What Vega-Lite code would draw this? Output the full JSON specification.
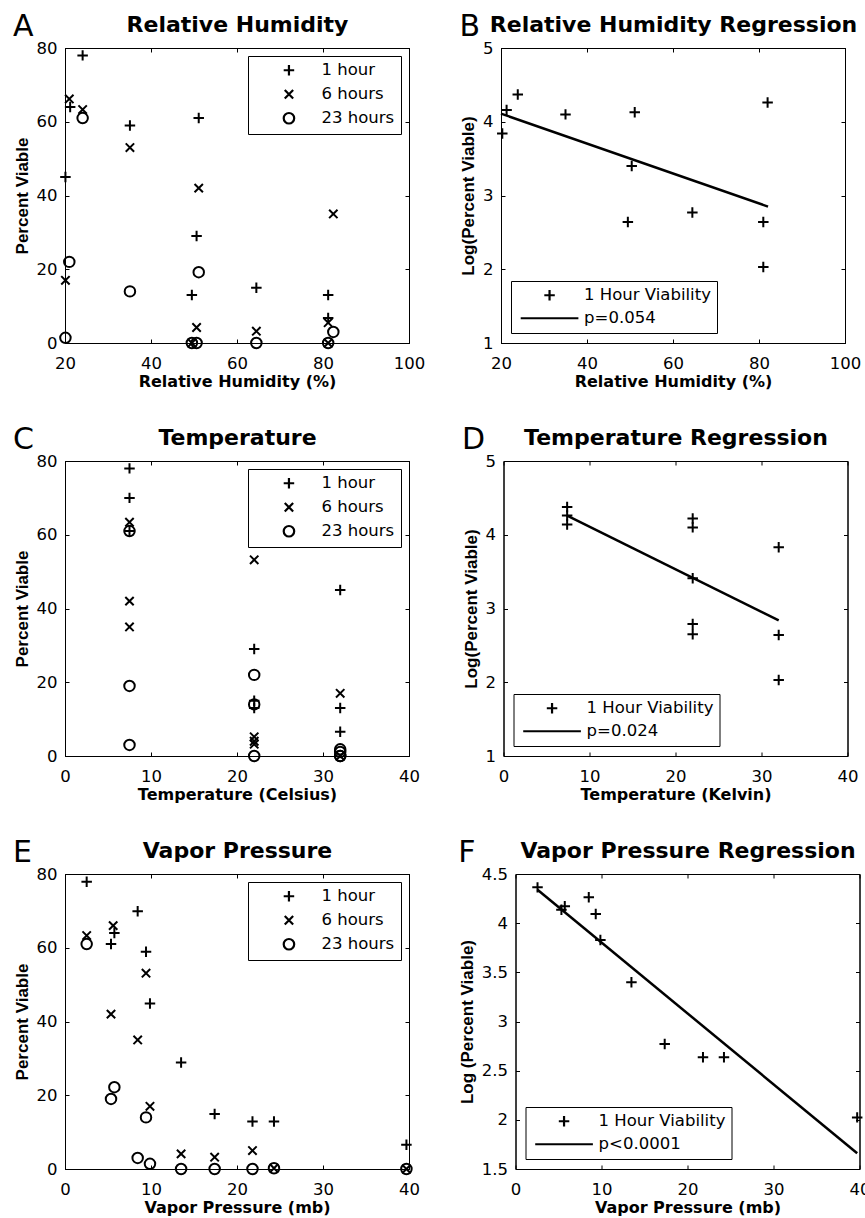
{
  "$schema": "https://vega.github.io/schema/vega-lite/v6.json",
  "background": "white",
  "padding": {"left": 12, "top": 11, "right": 0, "bottom": 0},
  "datasets": {
    "A": [
      {"x": 20.1, "y": 45, "s": "1 hour"}, {"x": 21.2, "y": 64, "s": "1 hour"}, {"x": 24.1, "y": 78, "s": "1 hour"},
      {"x": 35.1, "y": 59, "s": "1 hour"}, {"x": 49.5, "y": 13, "s": "1 hour"}, {"x": 50.6, "y": 29, "s": "1 hour"},
      {"x": 51.1, "y": 61, "s": "1 hour"}, {"x": 64.5, "y": 15, "s": "1 hour"}, {"x": 81.2, "y": 13, "s": "1 hour"},
      {"x": 81.2, "y": 6.8, "s": "1 hour"}, {"x": 82.2, "y": 70, "s": "1 hour"},
      {"x": 21.0, "y": 66.2, "s": "6 hours"}, {"x": 24.1, "y": 63.3, "s": "6 hours"}, {"x": 35.1, "y": 53, "s": "6 hours"},
      {"x": 51.1, "y": 42, "s": "6 hours"}, {"x": 20.1, "y": 17, "s": "6 hours"}, {"x": 50.6, "y": 4.2, "s": "6 hours"},
      {"x": 64.5, "y": 3.2, "s": "6 hours"}, {"x": 81.2, "y": 5.5, "s": "6 hours"}, {"x": 82.4, "y": 35, "s": "6 hours"},
      {"x": 49.5, "y": 0, "s": "6 hours"}, {"x": 81.2, "y": 0, "s": "6 hours"},
      {"x": 24.1, "y": 61, "s": "23 hours"}, {"x": 21.0, "y": 22, "s": "23 hours"}, {"x": 20.1, "y": 1.4, "s": "23 hours"},
      {"x": 35.1, "y": 14, "s": "23 hours"}, {"x": 51.1, "y": 19.2, "s": "23 hours"}, {"x": 49.5, "y": 0, "s": "23 hours"},
      {"x": 50.6, "y": 0, "s": "23 hours"}, {"x": 64.5, "y": 0, "s": "23 hours"}, {"x": 81.2, "y": 0, "s": "23 hours"},
      {"x": 82.4, "y": 3, "s": "23 hours"}
    ],
    "B": [
      {"x": 20.3, "y": 3.84, "s": "1 Hour Viability"}, {"x": 21.3, "y": 4.16, "s": "1 Hour Viability"},
      {"x": 23.9, "y": 4.37, "s": "1 Hour Viability"}, {"x": 35.0, "y": 4.10, "s": "1 Hour Viability"},
      {"x": 51.1, "y": 4.13, "s": "1 Hour Viability"}, {"x": 50.4, "y": 3.40, "s": "1 Hour Viability"},
      {"x": 49.5, "y": 2.64, "s": "1 Hour Viability"}, {"x": 64.5, "y": 2.77, "s": "1 Hour Viability"},
      {"x": 81.0, "y": 2.64, "s": "1 Hour Viability"}, {"x": 81.0, "y": 2.03, "s": "1 Hour Viability"},
      {"x": 82.0, "y": 4.26, "s": "1 Hour Viability"}
    ],
    "Bline": [{"x": 20, "y": 4.11}, {"x": 82.1, "y": 2.85}],
    "C": [
      {"x": 7.5, "y": 78, "s": "1 hour"}, {"x": 7.5, "y": 70, "s": "1 hour"}, {"x": 7.5, "y": 61, "s": "1 hour"},
      {"x": 22, "y": 64, "s": "1 hour"}, {"x": 22, "y": 59, "s": "1 hour"}, {"x": 22, "y": 29, "s": "1 hour"},
      {"x": 22, "y": 15, "s": "1 hour"}, {"x": 22, "y": 13, "s": "1 hour"}, {"x": 32, "y": 45, "s": "1 hour"},
      {"x": 32, "y": 13, "s": "1 hour"}, {"x": 32, "y": 6.6, "s": "1 hour"},
      {"x": 7.5, "y": 63.4, "s": "6 hours"}, {"x": 7.5, "y": 42, "s": "6 hours"}, {"x": 7.5, "y": 35, "s": "6 hours"},
      {"x": 22, "y": 66, "s": "6 hours"}, {"x": 22, "y": 53.2, "s": "6 hours"}, {"x": 22, "y": 5.2, "s": "6 hours"},
      {"x": 22, "y": 4, "s": "6 hours"}, {"x": 22, "y": 3.2, "s": "6 hours"}, {"x": 32, "y": 17, "s": "6 hours"},
      {"x": 32, "y": 0, "s": "6 hours"},
      {"x": 7.5, "y": 61, "s": "23 hours"}, {"x": 7.5, "y": 19, "s": "23 hours"}, {"x": 7.5, "y": 3, "s": "23 hours"},
      {"x": 22, "y": 22, "s": "23 hours"}, {"x": 22, "y": 14, "s": "23 hours"}, {"x": 22, "y": 0, "s": "23 hours"},
      {"x": 32, "y": 1.8, "s": "23 hours"}, {"x": 32, "y": 1.1, "s": "23 hours"}, {"x": 32, "y": 0, "s": "23 hours"},
      {"x": 32, "y": 0, "s": "23 hours"}
    ],
    "D": [
      {"x": 7.4, "y": 4.375, "s": "1 Hour Viability"}, {"x": 7.4, "y": 4.26, "s": "1 Hour Viability"},
      {"x": 7.4, "y": 4.14, "s": "1 Hour Viability"}, {"x": 22, "y": 4.22, "s": "1 Hour Viability"},
      {"x": 22, "y": 4.10, "s": "1 Hour Viability"}, {"x": 22, "y": 3.41, "s": "1 Hour Viability"},
      {"x": 22, "y": 2.79, "s": "1 Hour Viability"}, {"x": 22, "y": 2.65, "s": "1 Hour Viability"},
      {"x": 32, "y": 3.83, "s": "1 Hour Viability"}, {"x": 32, "y": 2.64, "s": "1 Hour Viability"},
      {"x": 32, "y": 2.03, "s": "1 Hour Viability"}
    ],
    "Dline": [{"x": 7.4, "y": 4.26}, {"x": 32, "y": 2.84}],
    "E": [
      {"x": 2.52, "y": 77.9, "s": "1 hour"}, {"x": 5.35, "y": 61, "s": "1 hour"}, {"x": 5.74, "y": 64, "s": "1 hour"},
      {"x": 8.45, "y": 69.9, "s": "1 hour"}, {"x": 9.42, "y": 58.9, "s": "1 hour"}, {"x": 9.88, "y": 44.9, "s": "1 hour"},
      {"x": 13.5, "y": 28.9, "s": "1 hour"}, {"x": 17.4, "y": 14.9, "s": "1 hour"}, {"x": 21.8, "y": 12.9, "s": "1 hour"},
      {"x": 24.3, "y": 12.9, "s": "1 hour"}, {"x": 39.7, "y": 6.6, "s": "1 hour"},
      {"x": 2.52, "y": 63.3, "s": "6 hours"}, {"x": 5.6, "y": 66, "s": "6 hours"}, {"x": 5.35, "y": 42, "s": "6 hours"},
      {"x": 8.45, "y": 35, "s": "6 hours"}, {"x": 9.42, "y": 53.1, "s": "6 hours"}, {"x": 9.88, "y": 17, "s": "6 hours"},
      {"x": 13.5, "y": 4.1, "s": "6 hours"}, {"x": 17.4, "y": 3.2, "s": "6 hours"}, {"x": 21.8, "y": 5, "s": "6 hours"},
      {"x": 24.3, "y": 0.2, "s": "6 hours"}, {"x": 39.7, "y": 0, "s": "6 hours"},
      {"x": 2.52, "y": 61, "s": "23 hours"}, {"x": 5.35, "y": 19, "s": "23 hours"}, {"x": 5.74, "y": 22.2, "s": "23 hours"},
      {"x": 9.42, "y": 14, "s": "23 hours"}, {"x": 8.45, "y": 3, "s": "23 hours"}, {"x": 9.88, "y": 1.4, "s": "23 hours"},
      {"x": 13.5, "y": 0, "s": "23 hours"}, {"x": 17.4, "y": 0, "s": "23 hours"}, {"x": 21.8, "y": 0, "s": "23 hours"},
      {"x": 24.3, "y": 0.2, "s": "23 hours"}, {"x": 39.7, "y": 0, "s": "23 hours"}
    ],
    "F": [
      {"x": 2.56, "y": 4.364, "s": "1 Hour Viability"}, {"x": 5.34, "y": 4.137, "s": "1 Hour Viability"},
      {"x": 5.73, "y": 4.171, "s": "1 Hour Viability"}, {"x": 8.52, "y": 4.263, "s": "1 Hour Viability"},
      {"x": 9.33, "y": 4.093, "s": "1 Hour Viability"}, {"x": 9.87, "y": 3.829, "s": "1 Hour Viability"},
      {"x": 13.48, "y": 3.398, "s": "1 Hour Viability"}, {"x": 17.35, "y": 2.771, "s": "1 Hour Viability"},
      {"x": 21.8, "y": 2.636, "s": "1 Hour Viability"}, {"x": 24.24, "y": 2.636, "s": "1 Hour Viability"},
      {"x": 39.73, "y": 2.025, "s": "1 Hour Viability"}
    ],
    "Fline": [{"x": 2.56, "y": 4.34}, {"x": 39.73, "y": 1.66}]
  },
  "spacing": 34,
  "resolve": {"scale": {"shape": "independent"}, "legend": {"shape": "independent"}},
  "vconcat": [
    {
      "spacing": 33,
      "resolve": {"scale": {"shape": "independent"}, "legend": {"shape": "independent"}},
      "hconcat": [
        {
          "width": 344, "height": 295,
          "title": {"text": "A", "anchor": "start", "frame": "bounds", "fontSize": 30, "fontWeight": "normal", "offset": -21, "dy": 32, "baseline": "alphabetic"},
          "layer": [
            {
              "data": {"name": "A"},
              "transform": [{"filter": "datum.s != '23 hours'"}],
              "mark": {"type": "point", "filled": false, "strokeWidth": 2, "color": "black", "opacity": 1, "size": 110},
              "encoding": {
                "x": {"field": "x", "type": "quantitative", "scale": {"domain": [20, 100], "nice": false, "zero": false}, "axis": {"orient": "bottom", "title": "Relative Humidity (%)", "values": [20, 40, 60, 80, 100]}},
                "y": {"field": "y", "type": "quantitative", "scale": {"domain": [0, 80], "nice": false, "zero": false}, "axis": {"orient": "left", "title": "Percent Viable", "values": [0, 20, 40, 60, 80]}},
                "shape": {"field": "s", "type": "nominal", "scale": {"domain": ["1 hour", "6 hours", "23 hours"], "range": ["M-1,0H1M0,-1V1", "M-0.8,-0.8L0.8,0.8M-0.8,0.8L0.8,-0.8", "circle"]}, "legend": {"title": null, "orient": "top-right", "offset": 8, "symbolOffset": 26.7, "labelOffset": 24.3}}
              }
            },
            {
              "data": {"name": "A"},
              "transform": [{"filter": "datum.s == '23 hours'"}],
              "mark": {"type": "point", "filled": false, "strokeWidth": 2, "color": "black", "opacity": 1, "size": 110},
              "encoding": {
                "x": {"field": "x", "type": "quantitative", "scale": {"domain": [20, 100], "nice": false, "zero": false}, "axis": {"orient": "top", "title": "Relative Humidity", "values": [20, 40, 60, 80, 100]}},
                "y": {"field": "y", "type": "quantitative", "scale": {"domain": [0, 80], "nice": false, "zero": false}, "axis": {"orient": "right", "title": null, "values": [0, 20, 40, 60, 80]}},
                "shape": {"field": "s", "type": "nominal", "scale": {"domain": ["1 hour", "6 hours", "23 hours"], "range": ["M-1,0H1M0,-1V1", "M-0.8,-0.8L0.8,0.8M-0.8,0.8L0.8,-0.8", "circle"]}, "legend": {"title": null, "orient": "top-right", "offset": 8, "symbolOffset": 26.7, "labelOffset": 24.3}}
              }
            }
          ],
          "resolve": {"axis": {"x": "independent", "y": "independent"}}
        },
        {
          "width": 344, "height": 295,
          "title": {"text": "B", "anchor": "start", "frame": "bounds", "fontSize": 30, "fontWeight": "normal", "offset": -21, "dy": 32, "baseline": "alphabetic"},
          "layer": [
            {
              "data": {"name": "B"},
              "mark": {"type": "point", "filled": false, "strokeWidth": 2, "color": "black", "opacity": 1, "size": 110},
              "encoding": {
                "x": {"field": "x", "type": "quantitative", "scale": {"domain": [20, 100], "nice": false, "zero": false}, "axis": {"orient": "bottom", "title": "Relative Humidity (%)", "values": [20, 40, 60, 80, 100]}},
                "y": {"field": "y", "type": "quantitative", "scale": {"domain": [1, 5], "nice": false, "zero": false}, "axis": {"orient": "left", "title": "Log(Percent Viable)", "values": [1, 2, 3, 4, 5]}},
                "shape": {"field": "s", "type": "nominal", "scale": {"domain": ["1 Hour Viability", "p=0.054"], "range": ["M-1,0H1M0,-1V1", "M-5.5,0H5.5"]}, "legend": {"title": null, "orient": "bottom-left", "offset": 10, "symbolOffset": 24.3, "labelOffset": 26.3}}
              }
            },
            {
              "data": {"name": "Bline"},
              "mark": {"type": "line", "color": "black", "strokeWidth": 2.5},
              "encoding": {
                "x": {"field": "x", "type": "quantitative", "scale": {"domain": [20, 100], "nice": false, "zero": false}, "axis": {"orient": "top", "title": "Relative Humidity Regression", "values": [20, 40, 60, 80, 100]}},
                "y": {"field": "y", "type": "quantitative", "scale": {"domain": [1, 5], "nice": false, "zero": false}, "axis": {"orient": "right", "title": null, "values": [1, 2, 3, 4, 5]}}
              }
            }
          ],
          "resolve": {"axis": {"x": "independent", "y": "independent"}}
        }
      ]
    },
    {
      "spacing": 41.5,
      "resolve": {"scale": {"shape": "independent"}, "legend": {"shape": "independent"}},
      "hconcat": [
        {
          "width": 344, "height": 295,
          "title": {"text": "C", "anchor": "start", "frame": "bounds", "fontSize": 30, "fontWeight": "normal", "offset": -21, "dy": 32, "baseline": "alphabetic"},
          "layer": [
            {
              "data": {"name": "C"},
              "transform": [{"filter": "datum.s != '23 hours'"}],
              "mark": {"type": "point", "filled": false, "strokeWidth": 2, "color": "black", "opacity": 1, "size": 110},
              "encoding": {
                "x": {"field": "x", "type": "quantitative", "scale": {"domain": [0, 40], "nice": false, "zero": false}, "axis": {"orient": "bottom", "title": "Temperature (Celsius)", "values": [0, 10, 20, 30, 40]}},
                "y": {"field": "y", "type": "quantitative", "scale": {"domain": [0, 80], "nice": false, "zero": false}, "axis": {"orient": "left", "title": "Percent Viable", "values": [0, 20, 40, 60, 80]}},
                "shape": {"field": "s", "type": "nominal", "scale": {"domain": ["1 hour", "6 hours", "23 hours"], "range": ["M-1,0H1M0,-1V1", "M-0.8,-0.8L0.8,0.8M-0.8,0.8L0.8,-0.8", "circle"]}, "legend": {"title": null, "orient": "top-right", "offset": 8, "symbolOffset": 26.7, "labelOffset": 24.3}}
              }
            },
            {
              "data": {"name": "C"},
              "transform": [{"filter": "datum.s == '23 hours'"}],
              "mark": {"type": "point", "filled": false, "strokeWidth": 2, "color": "black", "opacity": 1, "size": 110},
              "encoding": {
                "x": {"field": "x", "type": "quantitative", "scale": {"domain": [0, 40], "nice": false, "zero": false}, "axis": {"orient": "top", "title": "Temperature", "values": [0, 10, 20, 30, 40]}},
                "y": {"field": "y", "type": "quantitative", "scale": {"domain": [0, 80], "nice": false, "zero": false}, "axis": {"orient": "right", "title": null, "values": [0, 20, 40, 60, 80]}},
                "shape": {"field": "s", "type": "nominal", "scale": {"domain": ["1 hour", "6 hours", "23 hours"], "range": ["M-1,0H1M0,-1V1", "M-0.8,-0.8L0.8,0.8M-0.8,0.8L0.8,-0.8", "circle"]}, "legend": {"title": null, "orient": "top-right", "offset": 8, "symbolOffset": 26.7, "labelOffset": 24.3}}
              }
            }
          ],
          "resolve": {"axis": {"x": "independent", "y": "independent"}}
        },
        {
          "width": 344, "height": 295,
          "title": {"text": "D", "anchor": "start", "frame": "bounds", "fontSize": 30, "fontWeight": "normal", "offset": -21, "dy": 32, "baseline": "alphabetic"},
          "layer": [
            {
              "data": {"name": "D"},
              "mark": {"type": "point", "filled": false, "strokeWidth": 2, "color": "black", "opacity": 1, "size": 110},
              "encoding": {
                "x": {"field": "x", "type": "quantitative", "scale": {"domain": [0, 40], "nice": false, "zero": false}, "axis": {"orient": "bottom", "title": "Temperature (Kelvin)", "values": [0, 10, 20, 30, 40]}},
                "y": {"field": "y", "type": "quantitative", "scale": {"domain": [1, 5], "nice": false, "zero": false}, "axis": {"orient": "left", "title": "Log(Percent Viable)", "values": [1, 2, 3, 4, 5]}},
                "shape": {"field": "s", "type": "nominal", "scale": {"domain": ["1 Hour Viability", "p=0.024"], "range": ["M-1,0H1M0,-1V1", "M-5.5,0H5.5"]}, "legend": {"title": null, "orient": "bottom-left", "offset": 10, "symbolOffset": 24.3, "labelOffset": 26.3}}
              }
            },
            {
              "data": {"name": "Dline"},
              "mark": {"type": "line", "color": "black", "strokeWidth": 2.5},
              "encoding": {
                "x": {"field": "x", "type": "quantitative", "scale": {"domain": [0, 40], "nice": false, "zero": false}, "axis": {"orient": "top", "title": "Temperature Regression", "values": [0, 10, 20, 30, 40]}},
                "y": {"field": "y", "type": "quantitative", "scale": {"domain": [1, 5], "nice": false, "zero": false}, "axis": {"orient": "right", "title": null, "values": [1, 2, 3, 4, 5]}}
              }
            }
          ],
          "resolve": {"axis": {"x": "independent", "y": "independent"}}
        }
      ]
    },
    {
      "spacing": 37.5,
      "resolve": {"scale": {"shape": "independent"}, "legend": {"shape": "independent"}},
      "hconcat": [
        {
          "width": 344, "height": 295,
          "title": {"text": "E", "anchor": "start", "frame": "bounds", "fontSize": 30, "fontWeight": "normal", "offset": -21, "dy": 32, "baseline": "alphabetic"},
          "layer": [
            {
              "data": {"name": "E"},
              "transform": [{"filter": "datum.s != '23 hours'"}],
              "mark": {"type": "point", "filled": false, "strokeWidth": 2, "color": "black", "opacity": 1, "size": 110},
              "encoding": {
                "x": {"field": "x", "type": "quantitative", "scale": {"domain": [0, 40], "nice": false, "zero": false}, "axis": {"orient": "bottom", "title": "Vapor Pressure (mb)", "values": [0, 10, 20, 30, 40]}},
                "y": {"field": "y", "type": "quantitative", "scale": {"domain": [0, 80], "nice": false, "zero": false}, "axis": {"orient": "left", "title": "Percent Viable", "values": [0, 20, 40, 60, 80]}},
                "shape": {"field": "s", "type": "nominal", "scale": {"domain": ["1 hour", "6 hours", "23 hours"], "range": ["M-1,0H1M0,-1V1", "M-0.8,-0.8L0.8,0.8M-0.8,0.8L0.8,-0.8", "circle"]}, "legend": {"title": null, "orient": "top-right", "offset": 8, "symbolOffset": 26.7, "labelOffset": 24.3}}
              }
            },
            {
              "data": {"name": "E"},
              "transform": [{"filter": "datum.s == '23 hours'"}],
              "mark": {"type": "point", "filled": false, "strokeWidth": 2, "color": "black", "opacity": 1, "size": 110},
              "encoding": {
                "x": {"field": "x", "type": "quantitative", "scale": {"domain": [0, 40], "nice": false, "zero": false}, "axis": {"orient": "top", "title": "Vapor Pressure", "values": [0, 10, 20, 30, 40]}},
                "y": {"field": "y", "type": "quantitative", "scale": {"domain": [0, 80], "nice": false, "zero": false}, "axis": {"orient": "right", "title": null, "values": [0, 20, 40, 60, 80]}},
                "shape": {"field": "s", "type": "nominal", "scale": {"domain": ["1 hour", "6 hours", "23 hours"], "range": ["M-1,0H1M0,-1V1", "M-0.8,-0.8L0.8,0.8M-0.8,0.8L0.8,-0.8", "circle"]}, "legend": {"title": null, "orient": "top-right", "offset": 8, "symbolOffset": 26.7, "labelOffset": 24.3}}
              }
            }
          ],
          "resolve": {"axis": {"x": "independent", "y": "independent"}}
        },
        {
          "width": 344, "height": 295,
          "title": {"text": "F", "anchor": "start", "frame": "bounds", "fontSize": 30, "fontWeight": "normal", "offset": -21, "dy": 32, "baseline": "alphabetic"},
          "layer": [
            {
              "data": {"name": "F"},
              "mark": {"type": "point", "filled": false, "strokeWidth": 2, "color": "black", "opacity": 1, "size": 110},
              "encoding": {
                "x": {"field": "x", "type": "quantitative", "scale": {"domain": [0, 40], "nice": false, "zero": false}, "axis": {"orient": "bottom", "title": "Vapor Pressure (mb)", "values": [0, 10, 20, 30, 40]}},
                "y": {"field": "y", "type": "quantitative", "scale": {"domain": [1.5, 4.5], "nice": false, "zero": false}, "axis": {"orient": "left", "title": "Log (Percent Viable)", "values": [1.5, 2, 2.5, 3, 3.5, 4, 4.5], "format": "~g"}},
                "shape": {"field": "s", "type": "nominal", "scale": {"domain": ["1 Hour Viability", "p<0.0001"], "range": ["M-1,0H1M0,-1V1", "M-5.5,0H5.5"]}, "legend": {"title": null, "orient": "bottom-left", "offset": 10, "symbolOffset": 24.3, "labelOffset": 26.3}}
              }
            },
            {
              "data": {"name": "Fline"},
              "mark": {"type": "line", "color": "black", "strokeWidth": 2.5},
              "encoding": {
                "x": {"field": "x", "type": "quantitative", "scale": {"domain": [0, 40], "nice": false, "zero": false}, "axis": {"orient": "top", "title": "Vapor Pressure Regression", "values": [0, 10, 20, 30, 40]}},
                "y": {"field": "y", "type": "quantitative", "scale": {"domain": [1.5, 4.5], "nice": false, "zero": false}, "axis": {"orient": "right", "title": null, "values": [1.5, 2, 2.5, 3, 3.5, 4, 4.5]}}
              }
            }
          ],
          "resolve": {"axis": {"x": "independent", "y": "independent"}}
        }
      ]
    }
  ],
  "config": {
    "font": "DejaVu Sans",
    "view": {"stroke": "black", "strokeWidth": 1},
    "axis": {"domainColor": "black", "domainWidth": 1, "tickColor": "black", "tickWidth": 1, "tickSize": -4, "labelColor": "black", "titleColor": "black", "grid": false, "labelFontSize": 16.5, "labelFont": "DejaVu Sans", "labelFlush": false, "labelOverlap": false, "labelBound": false, "titleFontWeight": "bold"},
    "axisBottom": {"labelPadding": 16, "titleFontSize": 16, "titlePadding": 2, "titleFont": "DejaVu Sans"},
    "axisLeft": {"labelPadding": 12, "titleFont": "Liberation Sans", "titleFontSize": 17, "titlePadding": 5},
    "axisTop": {"labels": false, "titleFontSize": 22, "titlePadding": 11.5, "titleFont": "DejaVu Sans"},
    "axisRight": {"labels": false},
    "legend": {"strokeColor": "black", "strokeWidth": 1, "fillColor": "white", "padding": 6, "rowPadding": 5, "labelFontSize": 16.5, "labelFont": "DejaVu Sans", "labelColor": "black", "symbolSize": 110, "symbolStrokeWidth": 2.2, "symbolStrokeColor": "black", "cornerRadius": 0, "labelLimit": 300},
    "title": {"color": "black", "font": "DejaVu Sans"}
  }
}
